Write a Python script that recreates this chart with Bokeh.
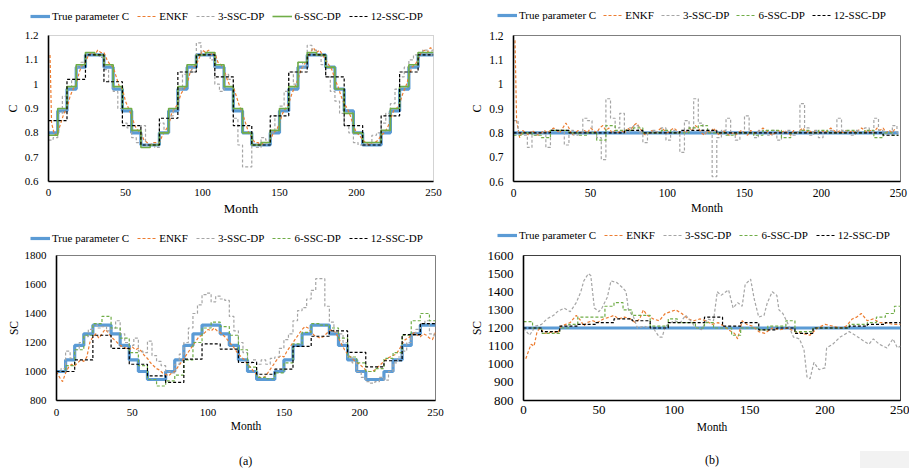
from bokeh.plotting import figure
from bokeh.models import Range1d, FixedTicker, Legend, LegendItem, CustomJSTickFormatter, Div
from bokeh.layouts import column, row
from bokeh.embed import file_html
from bokeh.resources import INLINE

FONT = "Liberation Serif"
BLUE = "#5B9BD5"; ORANGE = "#ED7D31"; GRAY = "#A5A5A5"; GREEN = "#70AD47"; BLACK = "#000000"

series_names = ["True parameter C", "ENKF", "3-SSC-DP", "6-SSC-DP", "12-SSC-DP"]
x_ticks = [0, 50, 100, 150, 200, 250]
c_ticks = [0.6, 0.7, 0.8, 0.9, 1.0, 1.1, 1.2]
sc_ticks_a = [800, 1000, 1200, 1400, 1600, 1800]
sc_ticks_b = [800, 900, 1000, 1100, 1200, 1300, 1400, 1500, 1600]

# step start months
m6 = list(range(0, 250, 6))
m12 = list(range(0, 250, 12))
m3 = list(range(0, 250, 3))
m2 = [1] + list(range(2, 251, 2))
m2b = list(range(0, 251, 2))

# ---------------- (a) C ----------------
a_c_true = [0.80, 0.89, 0.98, 1.07, 1.12, 1.12, 1.07, 0.98, 0.89, 0.80, 0.75, 0.75,
            0.80, 0.89, 0.98, 1.07, 1.12, 1.12, 1.07, 0.98, 0.89, 0.80, 0.75, 0.75,
            0.80, 0.89, 0.98, 1.07, 1.12, 1.12, 1.07, 0.98, 0.89, 0.80, 0.75, 0.75,
            0.80, 0.89, 0.98, 1.07, 1.12, 1.12]
a_c_enkf = [1.12, 0.84, 0.79, 0.80, 0.84, 0.88, 0.90, 0.95, 0.98, 1.00, 1.05, 1.08, 1.09,
            1.12, 1.13, 1.12, 1.14, 1.13, 1.13, 1.10, 1.08, 1.07, 1.03, 0.99, 0.98, 0.93,
            0.90, 0.87, 0.83, 0.81, 0.80, 0.77, 0.76, 0.75, 0.76, 0.76, 0.76, 0.79, 0.81,
            0.83, 0.88, 0.90, 0.92, 0.96, 0.98, 1.00, 1.05, 1.07, 1.08, 1.11, 1.14, 1.13,
            1.14, 1.12, 1.13, 1.09, 1.08, 1.06, 1.02, 0.99, 0.99, 0.95, 0.91, 0.88, 0.84,
            0.80, 0.78, 0.76, 0.76, 0.75, 0.76, 0.76, 0.77, 0.80, 0.81, 0.84, 0.88, 0.90,
            0.92, 0.96, 0.99, 1.02, 1.06, 1.08, 1.10, 1.13, 1.15, 1.13, 1.14, 1.12, 1.10,
            1.08, 1.06, 1.02, 0.99, 0.95, 0.92, 0.90, 0.87, 0.83, 0.80, 0.79, 0.77, 0.76,
            0.75, 0.76, 0.76, 0.77, 0.79, 0.80, 0.82, 0.85, 0.89, 0.90, 0.92, 0.96, 0.99,
            1.03, 1.07, 1.08, 1.10, 1.13, 1.14, 1.13, 1.15, 1.14]
a_c_3ssc = [0.77, 0.78, 0.88, 0.95, 0.99, 1.02, 1.07, 1.09, 1.12, 1.13, 1.12, 1.11,
            1.06, 1.01, 0.97, 0.90, 0.84, 0.82, 0.78, 0.76, 0.83, 0.75, 0.75, 0.74,
            0.84, 0.80, 0.87, 0.90, 0.98, 1.04, 1.08, 1.05, 1.17, 1.12, 1.13, 1.10,
            1.00, 0.97, 1.04, 1.02, 0.86, 0.75, 0.66, 0.66, 0.75, 0.74, 0.78, 0.77,
            0.80, 0.87, 0.91, 0.97, 1.05, 1.00, 1.09, 1.07, 1.16, 1.14, 1.12, 1.08,
            1.03, 0.97, 0.93, 0.88, 0.83, 0.80, 0.76, 0.75, 0.75, 0.76, 0.79, 0.80,
            0.84, 0.88, 0.92, 0.98, 1.03, 1.07, 1.10, 1.12, 1.13, 1.14, 1.12, 1.14]
a_c_6ssc = [0.79, 0.90, 0.99, 1.08, 1.13, 1.12, 1.08, 0.99, 0.90, 0.81, 0.74, 0.75,
            0.80, 0.90, 0.99, 1.08, 1.12, 1.13, 1.08, 0.99, 0.90, 0.80, 0.75, 0.76,
            0.81, 0.90, 0.99, 1.09, 1.13, 1.12, 1.07, 0.98, 0.88, 0.80, 0.76, 0.76,
            0.81, 0.90, 0.99, 1.08, 1.13, 1.13]
a_c_12ssc = [0.85, 1.02, 1.12, 1.01, 0.83, 0.75, 0.86, 1.05, 1.12, 1.03, 0.83, 0.75,
             0.87, 1.05, 1.12, 1.03, 0.83, 0.75, 0.87, 1.05, 1.12]

# ---------------- (b) C ----------------
b_c_true = [0.80, 0.80]
b_c_true_m = [0, 250]
b_c_enkf = [1.18, 0.85, 0.78, 0.81, 0.80, 0.79, 0.81, 0.80, 0.79, 0.80, 0.81, 0.80, 0.81,
            0.82, 0.81, 0.80, 0.82, 0.84, 0.82, 0.79, 0.80, 0.81, 0.80, 0.81, 0.80, 0.82,
            0.81, 0.80, 0.82, 0.83, 0.81, 0.82, 0.80, 0.81, 0.80, 0.81, 0.80, 0.82, 0.81,
            0.83, 0.84, 0.82, 0.80, 0.79, 0.80, 0.81, 0.80, 0.81, 0.82, 0.81, 0.80, 0.81,
            0.82, 0.81, 0.80, 0.81, 0.80, 0.82, 0.81, 0.83, 0.82, 0.80, 0.79, 0.81, 0.80,
            0.82, 0.80, 0.79, 0.81, 0.80, 0.79, 0.80, 0.79, 0.80, 0.81, 0.80, 0.79, 0.81,
            0.80, 0.80, 0.81, 0.82, 0.81, 0.80, 0.79, 0.80, 0.81, 0.80, 0.81, 0.80, 0.79,
            0.81, 0.80, 0.81, 0.82, 0.80, 0.81, 0.80, 0.81, 0.80, 0.81, 0.80, 0.81, 0.82,
            0.81, 0.80, 0.81, 0.80, 0.81, 0.80, 0.81, 0.80, 0.81, 0.82, 0.81, 0.80, 0.81,
            0.80, 0.82, 0.81, 0.82, 0.80, 0.81, 0.80, 0.82]
b_c_3ssc = [0.85, 0.80, 0.79, 0.74, 0.79, 0.80, 0.80, 0.74, 0.81, 0.81, 0.81, 0.75,
            0.81, 0.79, 0.80, 0.86, 0.85, 0.80, 0.78, 0.69, 0.94, 0.86, 0.82, 0.88,
            0.80, 0.82, 0.83, 0.80, 0.76, 0.80, 0.81, 0.80, 0.82, 0.77, 0.81, 0.80,
            0.72, 0.85, 0.82, 0.94, 0.84, 0.80, 0.81, 0.62, 0.78, 0.81, 0.86, 0.80,
            0.77, 0.80, 0.87, 0.80, 0.78, 0.81, 0.80, 0.79, 0.81, 0.77, 0.80, 0.81,
            0.79, 0.80, 0.92, 0.82, 0.79, 0.81, 0.78, 0.80, 0.81, 0.80, 0.86, 0.81,
            0.80, 0.79, 0.81, 0.80, 0.82, 0.80, 0.86, 0.81, 0.80, 0.79, 0.83, 0.80]
b_c_6ssc = [0.79, 0.80, 0.79, 0.78, 0.81, 0.81, 0.80, 0.79, 0.80, 0.77, 0.83, 0.81,
            0.81, 0.82, 0.80, 0.80, 0.81, 0.80, 0.80, 0.82, 0.83, 0.80, 0.80, 0.79,
            0.80, 0.80, 0.79, 0.81, 0.81, 0.78, 0.80, 0.81, 0.80, 0.81, 0.80, 0.80,
            0.81, 0.80, 0.81, 0.78, 0.80, 0.79]
b_c_12ssc = [0.80, 0.80, 0.81, 0.80, 0.80, 0.80, 0.81, 0.80, 0.80, 0.81, 0.81,
             0.80, 0.80, 0.80, 0.80, 0.80, 0.80, 0.80, 0.80, 0.80, 0.79]

# ---------------- (a) SC ----------------
a_sc_true = [1000, 1080, 1180, 1260, 1320, 1320, 1260, 1180, 1080, 1000, 945, 945,
             1000, 1080, 1180, 1260, 1320, 1320, 1260, 1180, 1080, 1000, 945, 945,
             1000, 1080, 1180, 1260, 1320, 1320, 1260, 1180, 1080, 1000, 945, 945,
             1000, 1080, 1180, 1260, 1320, 1320]
a_sc_enkf = [1000, 960, 930, 990, 1030, 1050, 1040, 1060, 1080, 1070, 1100, 1200, 1240,
             1260, 1230, 1260, 1290, 1270, 1240, 1220, 1200, 1180, 1170, 1160, 1150, 1170,
             1150, 1160, 1140, 1110, 1090, 1060, 1040, 1020, 1010, 990, 980, 970, 990,
             1000, 1030, 1060, 1090, 1120, 1150, 1180, 1210, 1240, 1250, 1270, 1290, 1280,
             1300, 1280, 1270, 1250, 1230, 1200, 1180, 1150, 1120, 1100, 1080, 1050, 1030,
             1000, 980, 960, 955, 970, 1000, 1030, 1060, 1090, 1110, 1100, 1140, 1170,
             1200, 1230, 1260, 1290, 1310, 1300, 1270, 1250, 1240, 1230, 1240, 1260, 1280,
             1290, 1270, 1230, 1190, 1150, 1120, 1100, 1080, 1060, 1050, 1030, 1010, 1000,
             1000, 1010, 1030, 1050, 1070, 1090, 1100, 1110, 1120, 1150, 1190, 1220, 1230,
             1250, 1270, 1250, 1240, 1260, 1250, 1230, 1220, 1270]
a_sc_3ssc = [1000, 1020, 1140, 1090, 1150, 1200, 1240, 1290, 1320, 1300, 1310, 1280,
             1300, 1350, 1260, 1200, 1180, 1230, 1140, 1130, 1210, 1110, 1070, 1040,
             1000, 990, 1050, 1120, 1200, 1300, 1400, 1460, 1530, 1540, 1480, 1520,
             1500, 1490, 1380, 1280, 1200, 1130, 1060, 1080, 1050, 1080, 1050, 1090,
             1100, 1160, 1220, 1260, 1350, 1420, 1440, 1500, 1560, 1640, 1640, 1450,
             1340, 1270, 1260, 1200, 1100, 1060, 1000, 960, 930, 920, 930, 960,
             940, 1000, 1060, 1100, 1140, 1200, 1250, 1290, 1330, 1350, 1260, 1240]
a_sc_6ssc = [1000, 1040, 1150, 1250, 1330, 1380, 1300, 1230, 1130, 1040, 945, 900,
             935, 975, 1080, 1200, 1300, 1340, 1310, 1250, 1150, 1030, 960, 950,
             990, 1060, 1190, 1270, 1330, 1320, 1300, 1230, 1100, 1060, 1000, 1020,
             1090, 1130, 1250, 1350, 1400, 1350]
a_sc_12ssc = [1000, 1080, 1250, 1160, 1050, 970, 925, 1085, 1190, 1155, 1062, 981,
              1016, 1173, 1243, 1280, 1132, 1032, 1074, 1254, 1330]

# ---------------- (b) SC ----------------
b_sc_true = [1200, 1200]
b_sc_true_m = [0, 250]
b_sc_enkf_m = [1.5, 5, 7, 9, 11, 14, 20, 22.5, 25, 28, 31, 35, 38, 40, 42, 46, 49, 53, 57, 60,
               63, 67, 71, 74, 77, 79.5, 82, 86, 90, 94, 101, 105, 109, 113, 117, 121, 125, 129,
               133, 136, 140, 142, 145, 148, 152, 156, 160, 165, 170, 175, 180, 185, 190, 195,
               200, 205, 210, 214, 218, 221, 224, 228, 232, 236, 240, 245, 250]
b_sc_enkf = [1030, 1110, 1100, 1180, 1200, 1170, 1180, 1170, 1210, 1220, 1230, 1270, 1240,
             1210, 1230, 1240, 1230, 1250, 1260, 1270, 1250, 1260, 1250, 1230, 1250, 1300,
             1270, 1250, 1240, 1280, 1300, 1280, 1250, 1240, 1250, 1240, 1220, 1230, 1210,
             1190, 1170, 1140, 1240, 1220, 1210, 1180, 1170, 1200, 1190, 1200, 1180, 1170,
             1160, 1200, 1220, 1210, 1200, 1210, 1250, 1260, 1280, 1240, 1250, 1230, 1230,
             1220, 1220]
b_sc_3ssc_m = [0, 4, 8, 12, 15.5, 20, 22.5, 27, 31, 35, 38, 40, 43, 44.6, 47, 50, 52, 55.6, 58,
               62, 66, 68, 69.6, 73, 75.5, 80, 83, 86, 90, 92, 94, 100, 104, 107.5, 112, 113,
               118, 122, 126, 128.5, 131, 136, 139, 142, 145, 147, 150.6, 153, 156, 159.5,
               161.7, 165, 168, 169.4, 172, 175, 179, 183, 186, 188, 190, 192.6, 196, 200, 201,
               205, 210, 216, 220, 223.5, 229, 232, 236, 241, 245, 248, 250]
b_sc_3ssc = [1200, 1160, 1210, 1220, 1250, 1270, 1290, 1310, 1290, 1340, 1400, 1460, 1500,
             1490, 1310, 1290, 1310, 1370, 1460, 1450, 1420, 1400, 1300, 1260, 1200, 1210,
             1200, 1200, 1150, 1150, 1210, 1240, 1230, 1270, 1230, 1210, 1190, 1250, 1240,
             1400, 1380, 1410, 1310, 1340, 1320, 1440, 1470, 1360, 1260, 1270, 1340, 1400,
             1380, 1300, 1280, 1230, 1150, 1140, 1080, 930, 920, 1010, 970, 980, 1090, 1110,
             1150, 1180, 1160, 1140, 1110, 1140, 1110, 1090, 1140, 1090, 1100]
b_sc_6ssc = [1235, 1200, 1170, 1170, 1200, 1220, 1260, 1260, 1260, 1320, 1340, 1300,
             1270, 1270, 1210, 1210, 1250, 1230, 1230, 1200, 1230, 1200, 1200, 1160,
             1200, 1200, 1190, 1210, 1210, 1240, 1180, 1180, 1200, 1200, 1200, 1200,
             1220, 1220, 1230, 1260, 1280, 1320]
b_sc_12ssc = [1200, 1180, 1210, 1220, 1230, 1250, 1240, 1200, 1230, 1230, 1260, 1210,
              1230, 1190, 1200, 1170, 1200, 1200, 1210, 1220, 1230]

END = 250


def stepxy(months, vals):
    return list(months) + [END], list(vals) + [vals[-1]]


def make_panel(w, h, ml, mr, mt, mb, y0, y1, yticks, ylabel, c_fmt, outline_color, outline_dash,
               x_end, tick_fs, xtitle_fs, ytitle_fs, x_std, x_lstd):
    p = figure(width=w, height=h, x_range=Range1d(0, x_end), y_range=Range1d(y0, y1),
               output_backend="svg", toolbar_location=None,
               min_border_left=ml, min_border_right=mr, min_border_top=mt, min_border_bottom=mb)
    p.background_fill_color = "white"
    p.border_fill_color = "white"
    p.grid.visible = False
    p.outline_line_color = outline_color
    p.outline_line_width = 1
    p.outline_line_dash = outline_dash
    for ax in (p.xaxis[0], p.yaxis[0]):
        ax.axis_line_color = BLACK
        ax.axis_line_width = 1.6
        ax.major_tick_line_color = None
        ax.minor_tick_line_color = None
        ax.major_tick_out = 0
        ax.major_tick_in = 0
        ax.major_label_text_font = FONT
        ax.major_label_text_font_size = tick_fs
        ax.major_label_text_color = BLACK
        ax.axis_label_text_font = FONT
        ax.axis_label_text_font_style = "normal"
        ax.axis_label_text_color = BLACK
    p.xaxis[0].axis_label_text_font_size = xtitle_fs
    p.yaxis[0].axis_label_text_font_size = ytitle_fs
    p.xaxis[0].ticker = FixedTicker(ticks=x_ticks)
    p.yaxis[0].ticker = FixedTicker(ticks=yticks)
    if c_fmt:
        p.yaxis[0].formatter = CustomJSTickFormatter(code="return String(Number(tick.toFixed(1)));")
    p.xaxis[0].axis_label = "Month"
    p.yaxis[0].axis_label = ylabel
    p.xaxis[0].major_label_standoff = x_std
    p.xaxis[0].axis_label_standoff = x_lstd
    p.yaxis[0].major_label_standoff = 10
    p.yaxis[0].axis_label_standoff = 2
    return p


def style_list(green_solid):
    return [dict(line_color=BLUE, line_width=3.2),
            dict(line_color=ORANGE, line_width=1.2, line_dash="3 2"),
            dict(line_color=GRAY, line_width=1.2, line_dash="3 2"),
            dict(line_color=GREEN, line_width=1.6) if green_solid else
            dict(line_color=GREEN, line_width=1.2, line_dash="3 2"),
            dict(line_color=BLACK, line_width=1.2, line_dash="3 2")]


def legend_fig(h, specs):
    lf = figure(width=909, height=h, x_range=Range1d(0, 1), y_range=Range1d(0, 1),
                output_backend="svg", toolbar_location=None, x_axis_type=None, y_axis_type=None,
                min_border=0, min_border_left=0, min_border_right=0, min_border_top=0,
                min_border_bottom=0)
    lf.grid.visible = False
    lf.outline_line_color = None
    lf.background_fill_color = "white"
    lf.border_fill_color = "white"
    for green_solid, xy, sp in specs:
        rs = [lf.line([-5, -4], [-5, -4], **st) for st in style_list(green_solid)]
        items = [LegendItem(label=n, renderers=[r]) for n, r in zip(series_names, rs)]
        leg = Legend(items=items, orientation="horizontal", location=xy,
                     glyph_width=20, glyph_height=12, label_height=12, label_standoff=2,
                     spacing=sp, padding=0, margin=0,
                     label_text_font=FONT, label_text_font_size="11px", label_text_color=BLACK,
                     background_fill_alpha=0, border_line_alpha=0)
        lf.add_layout(leg)
    return lf


# ---- legend rows ----
leg_top = legend_fig(28, [(True, (30, 6), 8), (False, (497, 7), 7)])
leg_bot = legend_fig(24, [(False, (30, 2), 8), (False, (497, 5), 8)])

# ---- panel (a) top ----
p1 = make_panel(455, 194, 48, 22, 7, 41, 0.6, 1.2, c_ticks, "C", True, "#A6A6A6", "1 1",
                250, "11px", "13px", "12px", 7, 2)
st = style_list(True)
x, y = stepxy(m6, a_c_true)
p1.step(x, y, mode="after", **st[0])
p1.line(m2, a_c_enkf, **st[1])
x, y = stepxy(m3, a_c_3ssc)
p1.step(x, y, mode="after", **st[2])
x, y = stepxy(m6, a_c_6ssc)
p1.step(x, y, mode="after", **st[3])
x, y = stepxy(m12, a_c_12ssc)
p1.step(x, y, mode="after", **st[4])

# ---- panel (b) top ----
p2 = make_panel(454, 194, 58, 9, 6, 39, 0.6, 1.2, c_ticks, "C", True, "#7F7F7F", "solid",
                251.3, "11.5px", "12px", "12px", 7, 1)
st = style_list(False)
p2.line(b_c_true_m, b_c_true, **st[0])
p2.line(m2, b_c_enkf, **st[1])
x, y = stepxy(m3, b_c_3ssc)
p2.step(x, y, mode="after", **st[2])
x, y = stepxy(m6, b_c_6ssc)
p2.step(x, y, mode="after", **st[3])
x, y = stepxy(m12, b_c_12ssc)
p2.step(x, y, mode="after", **st[4])

# ---- panel (a) bottom ----
p3 = make_panel(455, 194, 56, 20, 9, 40, 800, 1800, sc_ticks_a, "SC", False, "#7F7F7F", "solid",
                250, "11px", "11.5px", "11.5px", 8, 1)
x, y = stepxy(m6, a_sc_true)
p3.step(x, y, mode="after", **st[0])
p3.line(m2b, a_sc_enkf, **st[1])
x, y = stepxy(m3, a_sc_3ssc)
p3.step(x, y, mode="after", **st[2])
x, y = stepxy(m6, a_sc_6ssc)
p3.step(x, y, mode="after", **st[3])
x, y = stepxy(m12, a_sc_12ssc)
p3.step(x, y, mode="after", **st[4])

# ---- panel (b) bottom ----
p4 = make_panel(454, 194, 68, 9, 7, 38, 800, 1600, sc_ticks_b, "SC", False, "#404040", "solid",
                250, "13px", "11.5px", "11.5px", 5, 4)
p4.line(b_sc_true_m, b_sc_true, **st[0])
p4.line(b_sc_enkf_m, b_sc_enkf, **st[1])
p4.line(b_sc_3ssc_m, b_sc_3ssc, **st[2])
x, y = stepxy(m6, b_sc_6ssc)
p4.step(x, y, mode="after", **st[3])
x, y = stepxy(m12, b_sc_12ssc)
p4.step(x, y, mode="after", **st[4])

labels = Div(width=909, height=26, text=(
    '<div style="position:relative;width:909px;height:26px;font-family:\'Liberation Serif\';'
    'font-size:12px;color:#000">'
    '<span style="position:absolute;left:234px;top:8px">(a)</span>'
    '<span style="position:absolute;left:700px;top:7px">(b)</span>'
    '<span style="position:absolute;left:855px;top:6px;width:54px;height:20px;background:#F2F2F2"></span>'
    '</div>'))

layout = column(leg_top, row(p1, p2), leg_bot, row(p3, p4), labels)
open("out.html", "w").write(file_html(layout, INLINE))
